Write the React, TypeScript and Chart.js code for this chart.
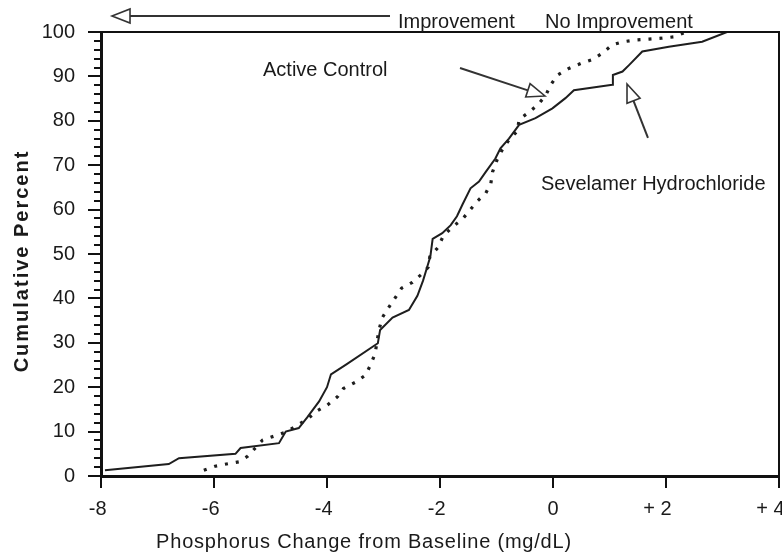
import React, { useEffect, useRef } from "react";
import { Chart, registerables } from "chart.js";

Chart.register(...registerables);

// ---- Data ----
const sevelamerX = [
  -7.93, -6.8, -6.62, -5.62, -5.53, -4.85, -4.73, -4.5, -4.35, -4.14, -4.0, -3.93, -3.65, -3.1, -3.06,
  -2.84, -2.55, -2.4, -2.3, -2.24, -2.17, -2.13, -1.96, -1.81, -1.7, -1.6, -1.46, -1.31, -1.19, -1.02,
  -0.93, -0.78, -0.6, -0.31, -0.01, 0.22, 0.37, 1.05, 1.06, 1.23, 1.35, 1.58, 2.05, 2.64, 3.08,
];
const sevelamerY = [
  1.3, 2.7, 4.0, 5.0, 6.3, 7.4, 10.0, 10.8, 13.2, 16.8, 20.0, 22.9, 25.2, 29.9, 32.9,
  35.7, 37.4, 40.6, 44.0, 46.5, 49.5, 53.4, 54.7, 56.5, 58.5, 61.2, 64.8, 66.3, 68.5, 71.5,
  73.8, 76.0, 79.1, 80.6, 82.8, 85.1, 86.9, 88.1, 90.3, 91.1, 92.6, 95.6, 96.7, 97.8, 100,
];
const activeX = [
  -6.18, -5.98, -5.78, -5.56, -5.4, -5.14, -4.93, -4.71, -4.35, -4.17, -3.99, -3.81, -3.71, -3.5,
  -3.32, -3.23, -3.15, -3.08, -3.02, -2.92, -2.8, -2.68, -2.49, -2.32, -2.21, -2.18, -2.04, -1.94,
  -1.78, -1.6, -1.47, -1.34, -1.19, -1.1, -1.07, -0.99, -0.9, -0.78, -0.63, -0.6, -0.44, -0.27,
  -0.13, -0.04, 0.08, 0.28, 0.49, 0.7, 0.87, 1.05, 1.24, 1.46, 1.7, 1.92, 2.14, 2.35,
];
const activeY = [
  1.3, 2.2, 2.7, 3.2, 4.5, 8.1, 9.0, 10.0, 12.8, 14.7, 16.0, 17.9, 19.7, 21.1,
  22.7, 25.0, 27.5, 32.9, 35.7, 37.7, 40.0, 42.3, 43.6, 45.5, 47.0, 49.4, 51.4, 54.1,
  56.1, 57.9, 59.9, 61.9, 63.7, 65.9, 68.5, 71.2, 73.4, 75.7, 77.7, 80.3, 81.8, 83.6,
  85.7, 88.1, 90.3, 91.8, 92.9, 93.8, 95.2, 97.1, 97.8, 98.2, 98.4, 98.6, 98.9, 100,
];
const xTickValues = [-8, -6, -4, -2, 0, 2, 4];
const xTickLabels = ["-8", "-6", "-4", "-2", "0", "+ 2", "+ 4"];
const yMinorTicks = [2, 4, 6, 8, 12, 14, 16, 18, 22, 24, 26, 28, 32, 34, 36, 38, 42, 44, 46, 48, 52, 54, 56, 58, 62, 64, 66, 68, 72, 74, 76, 78, 82, 84, 86, 88, 92, 94, 96, 98];

const xTitle = "Phosphorus Change from Baseline (mg/dL)";
const yTitle = "Cumulative Percent";
// annotation texts and arrows in data coordinates
const annotationTexts = [
  { text: "Improvement", x: -2.743, y: 100.9 },
  { text: "No Improvement", x: -0.142, y: 100.9 },
  { text: "Active Control", x: -5.133, y: 90.09 },
  { text: "Sevelamer Hydrochloride", x: -0.212, y: 64.41 },
];
const annotationArrows = [
  { fromX: -2.885, fromY: 103.6, toX: -7.805, toY: 103.6 },
  { fromX: -1.646, fromY: 91.89, toX: -0.142, toY: 85.59 },
  { fromX: 1.681, fromY: 76.13, toX: 1.31, toY: 88.29 },
];

const FONT = '"Liberation Sans", Arial, sans-serif';

const decorPlugin = {
  id: "decor",
  beforeDraw(chart: any) {
    const { ctx, width, height } = chart;
    ctx.save();
    ctx.fillStyle = "#ffffff";
    ctx.fillRect(0, 0, width, height);
    ctx.restore();
  },
  afterDraw(chart: any) {
    const { ctx, chartArea } = chart;
    const xs = chart.scales.x;
    const ys = chart.scales.y;
    ctx.save();
    // frame top and right
    ctx.strokeStyle = "#111";
    ctx.lineWidth = 2;
    ctx.beginPath();
    ctx.moveTo(chartArea.left, chartArea.top);
    ctx.lineTo(chartArea.right, chartArea.top);
    ctx.lineTo(chartArea.right, chartArea.bottom);
    ctx.stroke();
    // minor ticks on y axis
    ctx.lineWidth = 2;
    for (const v of yMinorTicks) {
      const p = Math.round(ys.getPixelForValue(v));
      ctx.beginPath();
      ctx.moveTo(chartArea.left - 7, p);
      ctx.lineTo(chartArea.left, p);
      ctx.stroke();
    }
    // x tick labels: last digit centred on the tick
    ctx.fillStyle = "#1a1a1a";
    ctx.font = `20px ${FONT}`;
    ctx.textAlign = "right";
    ctx.textBaseline = "middle";
    const dw = ctx.measureText("0").width;
    xTickValues.forEach((v, i) => {
      ctx.fillText(xTickLabels[i], xs.getPixelForValue(v) + dw / 2, chartArea.bottom + 33);
    });
    // annotation texts
    ctx.textAlign = "left";
    ctx.textBaseline = "alphabetic";
    for (const a of annotationTexts) {
      ctx.fillText(a.text, xs.getPixelForValue(a.x), ys.getPixelForValue(a.y));
    }
    // arrows with open triangular heads
    ctx.strokeStyle = "#333";
    for (const ar of annotationArrows) {
      const x1 = xs.getPixelForValue(ar.fromX);
      const y1 = ys.getPixelForValue(ar.fromY);
      const x2 = xs.getPixelForValue(ar.toX);
      const y2 = ys.getPixelForValue(ar.toY);
      const ang = Math.atan2(y2 - y1, x2 - x1);
      const L = 18;
      const W = 7;
      const bx = x2 - L * Math.cos(ang);
      const by = y2 - L * Math.sin(ang);
      const nx = -Math.sin(ang);
      const ny = Math.cos(ang);
      ctx.lineWidth = 2;
      ctx.beginPath();
      ctx.moveTo(x1, y1);
      ctx.lineTo(bx, by);
      ctx.stroke();
      ctx.lineWidth = 1.6;
      ctx.beginPath();
      ctx.moveTo(x2, y2);
      ctx.lineTo(bx + nx * W, by + ny * W);
      ctx.lineTo(bx - nx * W, by - ny * W);
      ctx.closePath();
      ctx.stroke();
    }
    // axis titles
    ctx.fillStyle = "#1a1a1a";
    ctx.font = `20px ${FONT}`;
    (ctx as any).letterSpacing = "0.8px";
    ctx.textAlign = "center";
    ctx.fillText(xTitle, chartArea.left + 263, 548);
    ctx.save();
    ctx.translate(28, (chartArea.top + chartArea.bottom) / 2 + 7);
    ctx.rotate(-Math.PI / 2);
    ctx.font = `bold 20px ${FONT}`;
    (ctx as any).letterSpacing = "2px";
    ctx.textAlign = "center";
    ctx.fillText(yTitle, 0, 0);
    ctx.restore();
    ctx.restore();
  },
};

export default function App() {
  const ref = useRef<HTMLCanvasElement | null>(null);
  useEffect(() => {
    if (!ref.current) return;
    const chart = new Chart(ref.current, {
      type: "scatter",
      data: {
        datasets: [
          {
            label: "Sevelamer Hydrochloride",
            data: sevelamerX.map((x, i) => ({ x, y: sevelamerY[i] })),
            showLine: true,
            borderColor: "#1e1e1e",
            borderWidth: 2,
            pointRadius: 0,
            tension: 0,
          },
          {
            label: "Active Control",
            data: activeX.map((x, i) => ({ x, y: activeY[i] })),
            showLine: true,
            borderColor: "#1e1e1e",
            borderWidth: 3.2,
            borderDash: [3, 8],
            pointRadius: 0,
            tension: 0,
          },
        ],
      },
      options: {
        animation: false,
        responsive: false,
        devicePixelRatio: 1,
        layout: { padding: { left: 0, top: 32, right: 3, bottom: 0 } },
        plugins: { legend: { display: false }, tooltip: { enabled: false } },
        scales: {
          x: {
            type: "linear",
            min: -8,
            max: 4,
            ticks: {
              stepSize: 2,
              color: "rgba(0,0,0,0)",
              font: { size: 20, family: FONT },
              padding: 9,
              maxRotation: 0,
              autoSkip: false,
              callback: (v: any) => {
                const i = xTickValues.indexOf(Number(v));
                return i >= 0 ? xTickLabels[i] : "";
              },
            },
            grid: { drawOnChartArea: false, drawTicks: true, tickLength: 12, color: "#111", lineWidth: 2 },
            border: { display: true, color: "#111", width: 3 },
            afterFit: (s: any) => {
              s.height = 83;
              s.paddingLeft = 0;
              s.paddingRight = 0;
            },
          },
          y: {
            type: "linear",
            min: 0,
            max: 100,
            ticks: {
              stepSize: 10,
              color: "#1a1a1a",
              font: { size: 20, family: FONT },
              padding: 13,
            },
            grid: { drawOnChartArea: false, drawTicks: true, tickLength: 13, color: "#111", lineWidth: 2 },
            border: { display: true, color: "#111", width: 3 },
            afterFit: (s: any) => {
              s.width = 101;
              s.paddingTop = 0;
              s.paddingBottom = 0;
            },
          },
        },
      } as any,
      plugins: [decorPlugin],
    });
    return () => chart.destroy();
  }, []);
  return (
    <div style={{ position: "fixed", left: 0, top: 0, width: 782, height: 559, background: "#fff" }}>
      <canvas ref={ref} width={782} height={559} style={{ display: "block" }} />
    </div>
  );
}
